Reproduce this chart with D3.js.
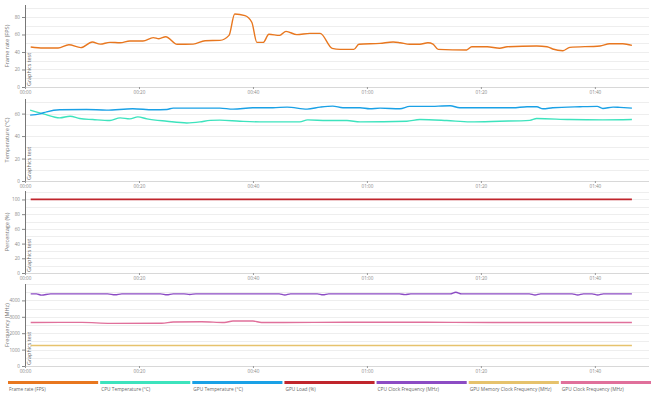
<!DOCTYPE html>
<html><head><meta charset="utf-8">
<script src="https://cdn.jsdelivr.net/npm/d3@7/dist/d3.min.js"></script>
<style>
html,body{margin:0;padding:0;background:#fff;}
svg{display:block;font-family:"Open Sans",sans-serif;}
</style></head>
<body><svg id="chart" width="660" height="396"></svg>
<script>
// ---- data (time in seconds) ----
const fpsTime = [1.0,3.2,5.8,7.7,9.8,11.8,13.2,14.9,16.7,18.4,20.7,22.5,23.5,24.7,26.7,29.5,31.6,34.2,35.8,36.8,38.6,39.8,40.7,41.8,42.8,44.7,45.8,47.7,50.0,51.8,53.9,55.3,57.7,58.6,62.3,64.6,65.8,67.5,69.3,70.7,71.6,72.5,77.5,78.4,81.1,83.3,84.6,89.8,91.6,92.6,94.4,95.6,100.9,102.6,104.9,106.5];
const fpsValues = [45.7,44.6,44.6,48.3,45,51.4,49,51,50.6,52.6,52.6,56.4,55.2,57.5,48.8,49,52.9,53.3,59,83.4,81.5,74,51,51,60.2,59,63.6,59.8,61.3,61.3,44.2,43,43,48.8,49.9,51.4,50.6,48.8,48.8,50.6,49,43,42.3,46,46,44.2,46,46.9,46,43.4,41.5,45.3,46.9,49.5,49.5,47.6];

const cpuTempTime = [0.9,3.2,6.1,7.9,9.6,11.9,14.9,16.7,18.4,19.8,21.4,24.9,28.4,30.7,32.5,34.2,37.7,41.2,48.2,49.6,53.0,56.5,58.8,67.0,69.3,74.0,78.1,83.3,88.6,89.8,95.6,101.4,106.5];
const cpuTempValues = [63.1,59.8,56.2,57.7,55.6,54.7,53.8,56.2,55.3,57.1,55.3,53.2,51.7,52.6,54,54.2,53.2,52.6,52.6,54.4,53.8,53.8,52.6,53.2,54.7,53.8,52.6,53.2,54,55.6,54.7,54.4,54.7];

const gpuTempTime = [0.9,2.6,3.8,6.1,10.8,14.3,18.9,22.5,24.9,26.0,34.2,36.5,40.0,43.5,46.0,49.5,51.8,54.0,55.8,58.8,60.5,62.3,65.8,67.5,70.5,74.6,76.3,85.6,88.1,89.8,90.9,92.6,97.4,100.4,101.4,103.2,104.4,106.5];
const gpuTempValues = [58.6,59.8,61.6,63.4,63.7,63.1,64.3,63.4,63.7,64.9,64.9,64,65.2,65.2,65.8,64,65.8,66.7,65.2,65.2,64.3,64.9,64.3,66.4,66.4,67,65.2,65.2,66.1,66.1,64.3,65.2,66.1,66.4,64.6,65.8,65.5,64.9];

const gpuLoadTime = [1,20,40,60,80,100,106.5];
const gpuLoadValues = [100,100,100,100,100,100,100];

const cpuClockTime = [1,2,2.9,4.5,14.5,15.8,17,23.8,24.9,26,27.9,28.9,30,44.6,45.6,46.6,51.3,52.3,53.3,65.7,66.7,67.7,74.6,75.6,76.6,88.5,89.5,90.5,96,97,98,99.5,100.5,101.5,106.5];
const cpuClockValues = [4400,4400,4320,4400,4400,4340,4400,4400,4340,4400,4400,4360,4400,4400,4330,4400,4400,4340,4400,4400,4350,4400,4400,4500,4400,4400,4330,4400,4400,4330,4400,4400,4330,4400,4400];

const gpuMemTime = [1,30,60,90,106.5];
const gpuMemValues = [1250,1250,1250,1250,1250];

const gpuClockTime = [1,10,15,24,26,31,35,36.5,40,41.5,60,75,90,106.5];
const gpuClockValues = [2650,2660,2600,2610,2680,2700,2650,2740,2740,2650,2670,2660,2650,2650];

const xTickValues = [0,20,40,60,80,100];
const seriesNames = ["Frame rate (FPS)","CPU Temperature (°C)","GPU Temperature (°C)","GPU Load (%)","CPU Clock Frequency (MHz)","GPU Memory Clock Frequency (MHz)","GPU Clock Frequency (MHz)"];
const seriesColors = ["#e8771f","#3de3bd","#1aa1e6","#c0252c","#8c4cc4","#e6c26c","#e0709b"];
const panelTitles = ["Frame rate (FPS)","Temperature (°C)","Percentage (%)","Frequency (MHz)"];
const annotationLabel = "Graphics test";

// ---- layout ----
const xLeft = 25, xRight = 649;
const panels = [
  {title:panelTitles[0], top:5,   bottom:87,  max:93.7, ticks:[0,20,40,60,80], grid:10,
   series:[[fpsTime,fpsValues,0]]},
  {title:panelTitles[1], top:99,  bottom:181, max:73,   ticks:[0,20,40,60], grid:10,
   series:[[cpuTempTime,cpuTempValues,1],[gpuTempTime,gpuTempValues,2]]},
  {title:panelTitles[2], top:191, bottom:273, max:111.5,ticks:[0,20,40,60,80,100], grid:10,
   series:[[gpuLoadTime,gpuLoadValues,3]]},
  {title:panelTitles[3], top:284, bottom:366, max:5000, ticks:[0,1000,2000,3000,4000], grid:500,
   series:[[cpuClockTime,cpuClockValues,4],[gpuMemTime,gpuMemValues,5],[gpuClockTime,gpuClockValues,6]]}
];

const svg = d3.select("#chart");
const x = d3.scaleLinear().domain([0,109.5]).range([xLeft,xRight]);
const fmt = s => String(Math.floor(s/60)).padStart(2,"0")+":"+String(s%60).padStart(2,"0");

panels.forEach(p => {
  const y = d3.scaleLinear().domain([0,p.max]).range([p.bottom,p.top]);
  const g = svg.append("g");
  const gv = d3.range(0, p.max+1e-9, p.grid);
  g.selectAll("line.grid").data(gv).join("line")
    .attr("x1",xLeft).attr("x2",xRight)
    .attr("y1",d=>Math.round(y(d))+0.5).attr("y2",d=>Math.round(y(d))+0.5)
    .attr("stroke", d=> d===0 ? "#d8d8d8" : "#eeeeee").attr("stroke-width",1);
  const xa = g.append("g").attr("transform",`translate(0,${p.bottom})`)
    .call(d3.axisBottom(x).tickValues(xTickValues).tickFormat(fmt).tickSize(2).tickPadding(2));
  xa.select(".domain").remove();
  xa.selectAll("line").attr("stroke","#999");
  xa.selectAll("text").attr("fill","#888").style("font-size","4.6px").style("font-family","Open Sans");
  const ya = g.append("g").attr("transform",`translate(${xLeft},0)`)
    .call(d3.axisLeft(y).tickValues(p.ticks).tickFormat(d3.format("d")).tickSize(3).tickPadding(2));
  ya.select(".domain").attr("stroke","#777").attr("d",`M0.5,${p.top}V${p.bottom}`);
  ya.selectAll(".tick line").attr("stroke","#888");
  ya.selectAll("text").attr("fill","#888").style("font-size","4.6px").style("font-family","Open Sans");
  g.append("text").attr("transform",`translate(9,${(p.top+p.bottom)/2}) rotate(-90)`)
    .attr("text-anchor","middle").attr("fill","#777").style("font-size","5.6px")
    .text(p.title);
  g.append("text").attr("transform",`translate(31,${p.bottom-1}) rotate(-90)`)
    .attr("text-anchor","start").attr("fill","#666").style("font-size","5.4px")
    .text(annotationLabel);
  p.series.forEach(([ts,vs,ci]) => {
    const pts = ts.map((t,i)=>[t,vs[i]]);
    g.append("path").datum(pts)
      .attr("fill","none").attr("stroke",seriesColors[ci])
      .attr("stroke-width", ci===3 ? 1.8 : 1.4)
      .attr("stroke-linejoin","round")
      .attr("d", d3.line().x(d=>x(d[0])).y(d=>y(d[1])).curve(d3.curveMonotoneX));
  });
});

const slot = (653-8)/seriesNames.length;
const lg = svg.append("g");
seriesNames.forEach((n,i) => {
  const x0 = 8 + i*slot;
  lg.append("rect").attr("x",x0).attr("y",381).attr("width",slot-2).attr("height",3)
    .attr("fill",seriesColors[i]);
  lg.append("text").attr("x",x0+1).attr("y",391).attr("fill","#666")
    .style("font-size","4.8px").text(n);
});
</script></body></html>
